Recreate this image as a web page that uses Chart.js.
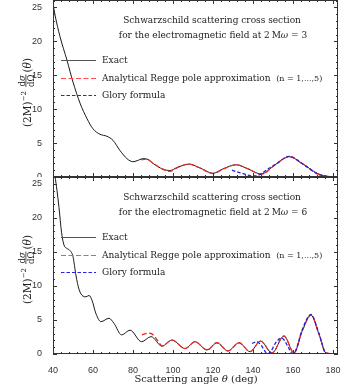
<!DOCTYPE html>
<html>
<head>
<meta charset="utf-8">
<script src="https://cdn.jsdelivr.net/npm/chart.js@4.4.1/dist/chart.umd.min.js"></script>
<style>
  html, body { margin: 0; padding: 0; background: #fff; }
  #wrap { position: relative; width: 352px; height: 387px; }
  canvas { position: absolute; left: 0; }
  #top { top: 0; }
  #bottom { top: 177px; background: #fff; }
</style>
</head>
<body>
<div id="wrap">
  <canvas id="top" width="352" height="178"></canvas>
  <canvas id="bottom" width="352" height="210"></canvas>
</div>
<script>
// 2M omega = 3
var thetaExactA = [40, 41, 43.5, 47, 50, 53.5, 57, 60, 63.5, 67, 70, 73.5, 77, 80, 82, 85, 87.5, 90, 95, 98.5, 102, 108, 113, 120, 125, 131.5, 137.5, 144, 151.5, 158, 165, 172, 176, 180];
var sigmaExactA = [25.6, 23.9, 20.7, 17.2, 14.0, 10.9, 8.6, 7.1, 6.3, 6.0, 5.4, 3.9, 2.7, 2.25, 2.4, 2.7, 2.6, 2.0, 1.15, 0.95, 1.4, 1.9, 1.4, 0.55, 1.2, 1.8, 1.2, 0.45, 1.9, 3.0, 1.9, 0.55, 0.15, 0.05];
var thetaReggeA = [84, 86, 88, 91, 94.5, 98.5, 102, 108, 113, 120, 125, 131.5, 137.5, 144, 151.5, 158, 165, 172, 176, 180];
var sigmaReggeA = [2.55, 2.6, 2.45, 1.85, 1.2, 0.85, 1.35, 1.9, 1.4, 0.5, 1.15, 1.8, 1.2, 0.4, 1.9, 3.0, 1.9, 0.5, 0.12, 0.05];
var thetaGloryA = [129.5, 132, 135, 138.5, 141, 144, 147, 151.5, 158, 165, 172, 176, 180];
var sigmaGloryA = [1.0, 0.75, 0.5, 0.2, 0.15, 0.45, 1.1, 1.9, 3.05, 1.9, 0.5, 0.1, 0.0];

// 2M omega = 6
var thetaExactB = [40, 41, 42, 43, 44.3, 45.5, 47, 48.5, 50, 51.5, 53, 55, 56.5, 58, 59.5, 61.5, 64, 68, 70.5, 74.3, 78.5, 84.3, 89, 94.5, 99.5, 106, 111, 117, 122, 127.5, 133, 138.5, 143.8, 149.5, 155.5, 160.5, 164.5, 169, 173, 176.5, 180];
var sigmaExactB = [29, 26.2, 24.0, 21.5, 17.8, 16.0, 15.5, 15.2, 14.3, 11.5, 9.5, 8.5, 8.4, 8.6, 7.9, 5.9, 4.75, 5.25, 4.5, 2.8, 3.5, 1.8, 2.55, 1.15, 2.05, 0.8, 1.8, 0.6, 1.65, 0.45, 1.65, 0.35, 1.9, 0.15, 2.65, 0.15, 3.3, 5.7, 2.9, 0.15, 0.05];
var thetaReggeB = [84.5, 86.5, 88.5, 90.5, 92.5, 94.5, 99.5, 106, 111, 117, 122, 127.5, 133, 138.5, 143.8, 149.5, 155.5, 160.5, 164.5, 169, 173, 176.5, 180];
var sigmaReggeB = [2.8, 3.0, 3.05, 2.7, 1.9, 1.2, 2.05, 0.8, 1.8, 0.6, 1.65, 0.45, 1.65, 0.35, 1.9, 0.15, 2.65, 0.15, 3.3, 5.7, 2.9, 0.15, 0.05];
var thetaGloryB = [139.5, 142, 144, 145.7, 147, 149, 151, 154.3, 157.5, 159.5, 161, 164.5, 169, 173, 176.5, 180];
var sigmaGloryB = [1.55, 1.8, 1.3, 0.55, 0.05, 0.4, 1.5, 2.35, 1.1, 0.1, 0.3, 3.5, 5.8, 3.0, 0.1, 0.0];

var xTicks = [40, 60, 80, 100, 120, 140, 160, 180];
var yTicks = [0, 5, 10, 15, 20, 25];

var SERIF = '"DejaVu Serif", serif';
var exactColor = '#1a1a1a', reggeColor = '#f02a2a', gloryColor = '#2424d8';

function pts(xs, ys) {
  var out = [];
  for (var i = 0; i < xs.length; i++) out.push({x: xs[i], y: ys[i]});
  return out;
}

// draw a row of text pieces with different fonts, alphabetic baseline
function drawRuns(ctx, parts, x, y, align) {
  var w = 0;
  parts.forEach(function (p) { ctx.font = p.f; w += ctx.measureText(p.t).width; });
  var cx = align === 'center' ? x - w / 2 : x;
  ctx.textAlign = 'left';
  ctx.textBaseline = 'alphabetic';
  parts.forEach(function (p) {
    ctx.font = p.f;
    ctx.fillText(p.t, cx, y + (p.dy || 0));
    cx += ctx.measureText(p.t).width;
  });
}

function drawYLabel(ctx, cx, cy) {
  ctx.save();
  ctx.translate(cx, cy);
  ctx.rotate(-Math.PI / 2);
  ctx.fillStyle = '#222';
  ctx.textBaseline = 'alphabetic';
  ctx.textAlign = 'left';
  var big = '10.5px ' + SERIF, sup = '7px ' + SERIF, fr = '8.5px ' + SERIF;
  var itFr = 'italic 8.5px ' + SERIF, it = 'italic 10.5px ' + SERIF;
  ctx.font = big; var w1 = ctx.measureText('(2M)').width;
  ctx.font = sup; var w2 = ctx.measureText('\u22122').width;
  ctx.font = fr; var wd = ctx.measureText('d').width; var wO = ctx.measureText('\u03a9').width;
  ctx.font = itFr; var ws = ctx.measureText('\u03c3').width;
  var wf = wd + Math.max(ws, wO);
  ctx.font = big; var wp = ctx.measureText('(').width;
  ctx.font = it; var wt = ctx.measureText('\u03b8').width;
  var total = w1 + w2 + 4 + wf + 2 + wp * 2 + wt;
  var x = -total / 2;
  ctx.font = big; ctx.fillText('(2M)', x, 0); x += w1;
  ctx.font = sup; ctx.fillText('\u22122', x, -5); x += w2 + 4;
  // fraction d sigma / d Omega
  var numW = wd + ws, denW = wd + wO;
  ctx.font = fr; ctx.fillText('d', x + (wf - numW) / 2, -6);
  ctx.font = itFr; ctx.fillText('\u03c3', x + (wf - numW) / 2 + wd, -6);
  ctx.font = fr; ctx.fillText('d\u03a9', x + (wf - denW) / 2, 3);
  ctx.fillRect(x, -5, wf, 0.8);
  x += wf + 2;
  ctx.font = big; ctx.fillText('(', x, 0); x += wp;
  ctx.font = it; ctx.fillText('\u03b8', x, 0); x += wt;
  ctx.font = big; ctx.fillText(')', x, 0);
  ctx.restore();
}

function panelPlugin(omega, showXTitle) {
  return {
    id: 'panel' + omega,
    afterDraw: function (chart) {
      var ctx = chart.ctx, a = chart.chartArea;
      var xs = chart.scales.x, ys = chart.scales.y;
      ctx.save();
      // frame and inward ticks
      ctx.strokeStyle = '#333';
      ctx.lineWidth = 1;
      ctx.strokeRect(a.left + 0.5, a.top + 0.5, a.right - a.left - 1, a.bottom - a.top - 1);
      ctx.beginPath();
      for (var v = 40; v <= 180; v += 4) {
        var px = Math.round(xs.getPixelForValue(v)) + 0.5;
        var len = v % 20 === 0 ? 4 : 2;
        ctx.moveTo(px, a.bottom); ctx.lineTo(px, a.bottom - len);
        ctx.moveTo(px, a.top); ctx.lineTo(px, a.top + len);
      }
      for (var u = 0; u <= 26; u += 1) {
        var py = Math.round(ys.getPixelForValue(u)) + 0.5;
        var l2 = u % 5 === 0 ? 4 : 2;
        ctx.moveTo(a.left, py); ctx.lineTo(a.left + l2, py);
        ctx.moveTo(a.right, py); ctx.lineTo(a.right - l2, py);
      }
      ctx.stroke();

      var oy = a.top;
      ctx.fillStyle = '#222';
      var f = '9px ' + SERIF, fi = 'italic 9px ' + SERIF, fs = '8px ' + SERIF;
      drawRuns(ctx, [{t: 'Schwarzschild scattering cross section', f: f}], 212, oy + 22.5, 'center');
      drawRuns(ctx, [{t: 'for the electromagnetic field at 2\u2009M', f: f}, {t: '\u03c9', f: fi}, {t: ' = ' + omega, f: f}], 213, oy + 38, 'center');

      // legend
      var rows = [
        {y: 60, c: '#555', dash: [], w: 1, label: [{t: 'Exact', f: f}]},
        {y: 78, c: '#ff5050', dash: [5, 2.5], w: 1.2, label: [{t: 'Analytical Regge pole approximation  ', f: f}, {t: '(n = 1,...,5)', f: fs}]},
        {y: 95, c: gloryColor, dash: [3.5, 2], w: 1.2, label: [{t: 'Glory formula', f: f}]}
      ];
      rows.forEach(function (r) {
        ctx.save();
        ctx.strokeStyle = r.c; ctx.lineWidth = r.w; ctx.setLineDash(r.dash);
        ctx.beginPath(); ctx.moveTo(61, oy + r.y + 0.5); ctx.lineTo(96, oy + r.y + 0.5); ctx.stroke();
        ctx.restore();
        drawRuns(ctx, r.label, 102, oy + r.y + 3, 'left');
      });

      drawYLabel(ctx, 30.5, (a.top + a.bottom) / 2 + 4);

      if (showXTitle) {
        var ft = '10px ' + SERIF, fti = 'italic 10px ' + SERIF;
        drawRuns(ctx, [{t: 'Scattering angle ', f: ft}, {t: '\u03b8', f: fti}, {t: ' (deg)', f: ft}], 196, a.bottom + 28, 'center');
      }
      ctx.restore();
    }
  };
}

function makeChart(id, omega, ymax, exX, exY, rgX, rgY, glX, glY, bottom) {
  var lineDs = function (label, data, color, dash, width) {
    return {
      label: label,
      data: data,
      showLine: true,
      borderColor: color,
      borderWidth: width,
      borderDash: dash,
      pointRadius: 0,
      pointHoverRadius: 0,
      cubicInterpolationMode: 'monotone',
      fill: false
    };
  };
  return new Chart(document.getElementById(id), {
    type: 'scatter',
    data: {
      datasets: [
        lineDs('Glory formula', pts(glX, glY), gloryColor, [3.5, 2], 1.3),
        lineDs('Analytical Regge pole approximation', pts(rgX, rgY), reggeColor, [5, 2.5], 1.3),
        lineDs('Exact', pts(exX, exY), exactColor, [], 1)
      ]
    },
    options: {
      responsive: false,
      animation: false,
      events: [],
      layout: {padding: {left: 0, right: 14, top: 0, bottom: 0}},
      plugins: {legend: {display: false}, tooltip: {enabled: false}, title: {display: false}},
      scales: {
        x: {
          type: 'linear', min: 40, max: 182.5,
          afterBuildTicks: function (s) { s.ticks = xTicks.map(function (v) { return {value: v}; }); },
          afterFit: function (s) {
            s.height = bottom ? 33 : 1;
            s.paddingLeft = 0; s.paddingRight = 0; s.paddingTop = 0; s.paddingBottom = 0;
          },
          grid: {display: false}, border: {display: false},
          ticks: {display: bottom, padding: 3, color: '#333', font: {family: '"Liberation Sans", Arial, sans-serif', size: 9}}
        },
        y: {
          type: 'linear', min: 0, max: ymax,
          afterBuildTicks: function (s) { s.ticks = yTicks.map(function (v) { return {value: v}; }); },
          afterFit: function (s) {
            s.width = 53;
            s.paddingLeft = 0; s.paddingRight = 0; s.paddingTop = 0; s.paddingBottom = 0;
          },
          grid: {display: false}, border: {display: false},
          ticks: {padding: 3, color: '#333', font: {family: '"Liberation Sans", Arial, sans-serif', size: 9}}
        }
      }
    },
    plugins: [panelPlugin(omega, bottom)]
  });
}

makeChart('top', 3, 26.1, thetaExactA, sigmaExactA, thetaReggeA, sigmaReggeA, thetaGloryA, sigmaGloryA, false);
makeChart('bottom', 6, 26, thetaExactB, sigmaExactB, thetaReggeB, sigmaReggeB, thetaGloryB, sigmaGloryB, true);
</script>
</body>
</html>
